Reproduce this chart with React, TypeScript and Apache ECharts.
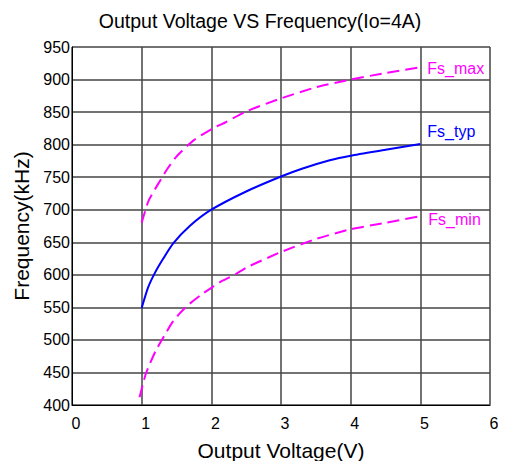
import React, { useEffect, useRef } from "react";
import * as echarts from "echarts";

const fsMax: [number, number][] = [
  [1.0, 680], [1.1, 714], [1.25, 742], [1.37, 763], [1.51, 783], [1.75, 807],
  [2.04, 826], [2.2, 834], [2.5, 851], [3.0, 871], [3.5, 888], [4.0, 900],
  [4.5, 910], [5.0, 919],
];
const fsTyp: [number, number][] = [
  [1.0, 549], [1.09, 580], [1.19, 603], [1.31, 625], [1.45, 648], [1.69, 675],
  [2.0, 700], [2.5, 728], [3.0, 751], [3.3, 763], [3.7, 776], [4.0, 783],
  [4.5, 792], [5.0, 801],
];
const fsMin: [number, number][] = [
  [0.97, 412], [1.06, 448], [1.2, 483], [1.35, 511], [1.44, 527], [1.54, 540],
  [1.66, 553], [1.85, 569], [2.0, 580], [2.16, 591], [2.35, 601], [2.5, 611],
  [3.0, 635], [3.5, 655], [4.0, 670], [4.5, 680], [5.0, 690],
];
const seriesNames = ["Fs_max", "Fs_typ", "Fs_min"];
const titleText = "Output Voltage VS Frequency(Io=4A)";
const xName = "Output Voltage(V)";
const yName = "Frequency(kHz)";

const FONT = "'Liberation Sans', Arial, sans-serif";

export default function App() {
  const ref = useRef<HTMLDivElement>(null);
  useEffect(() => {
    if (!ref.current) return;
    const chart = echarts.init(ref.current, undefined, { renderer: "svg" });
    const lineSeries = (name: string, data: [number, number][], color: string, dashed: boolean, offset: number[]) => ({
      name,
      type: "line",
      data,
      showSymbol: false,
      smooth: 0.2,
      lineStyle: { color, width: 2, type: dashed ? [12, 6] : "solid" },
      endLabel: {
        show: true,
        formatter: name,
        color,
        fontSize: 16,
        fontFamily: FONT,
        offset,
      },
    });
    chart.setOption({
      animation: false,
      backgroundColor: "#fff",
      title: {
        text: titleText,
        left: 255,
        textAlign: "center",
        top: 6,
        textStyle: { fontSize: 19.5, fontWeight: "normal", color: "#000", fontFamily: FONT },
      },
      grid: { left: 72, right: 16, top: 47, bottom: 64 },
      xAxis: {
        type: "value",
        min: 0,
        max: 6,
        interval: 1,
        name: xName,
        nameLocation: "middle",
        nameGap: 35,
        nameTextStyle: { fontSize: 21, color: "#000", fontFamily: FONT },
        axisLine: { show: true, lineStyle: { color: "#000", width: 1 } },
        axisTick: { show: false },
        axisLabel: { fontSize: 16, color: "#000", fontFamily: FONT, margin: 10, padding: [0, 0, 0, 8] },
        splitLine: { show: true, lineStyle: { color: "#444", width: 1.5 } },
      },
      yAxis: {
        type: "value",
        min: 400,
        max: 950,
        interval: 50,
        name: yName,
        nameLocation: "middle",
        nameGap: 40,
        nameTextStyle: { fontSize: 21, color: "#000", fontFamily: FONT },
        axisLine: { show: true, lineStyle: { color: "#000", width: 1 } },
        axisTick: { show: false },
        axisLabel: { fontSize: 16, color: "#000", fontFamily: FONT, margin: 2 },
        splitLine: { show: true, lineStyle: { color: "#444", width: 1.5 } },
      },
      series: [
        lineSeries(seriesNames[0], fsMax, "#ff00ff", true, [-1, 1]),
        lineSeries(seriesNames[1], fsTyp, "#0000ff", false, [-1, -12]),
        lineSeries(seriesNames[2], fsMin, "#ff00ff", true, [0, 3]),
      ],
    });
    return () => chart.dispose();
  }, []);
  return <div ref={ref} style={{ width: 506, height: 469, margin: -8 }} />;
}
